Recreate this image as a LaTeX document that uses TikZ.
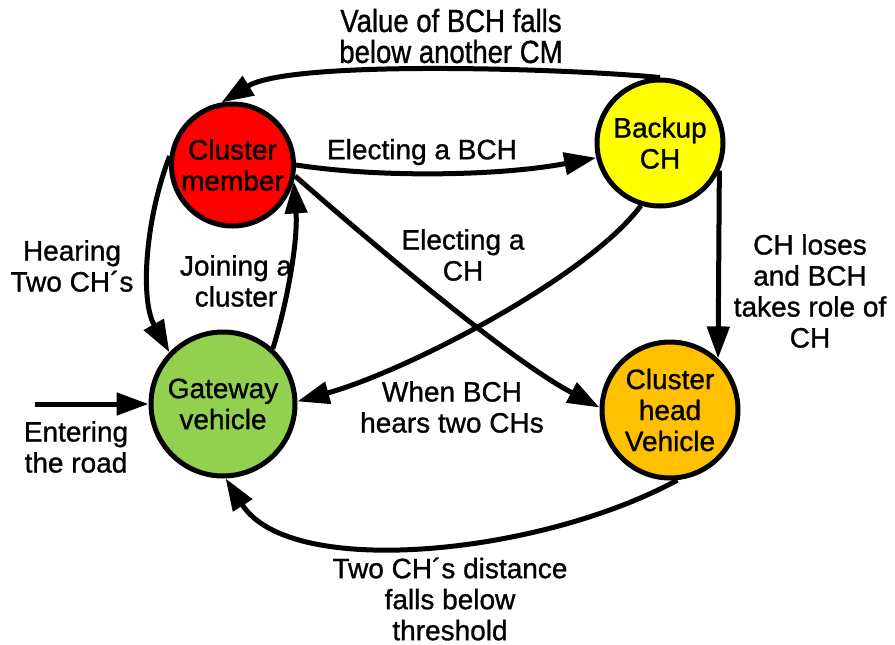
\documentclass[tikz,border=0pt]{standalone}
\usepackage{fontspec}
\setmainfont[FakeBold=1]{Liberation Sans}
\newfontfamily\narrowfont[FakeStretch=0.86,FakeBold=1]{Liberation Sans}
\usetikzlibrary{arrows.meta}

\definecolor{cmred}{RGB}{255,0,0}
\definecolor{bchyellow}{RGB}{255,255,0}
\definecolor{gwgreen}{RGB}{146,208,80}
\definecolor{chorange}{RGB}{255,192,0}

\tikzset{
  state/.style={circle, draw=black, line width=5pt, inner sep=0pt,
    align=center, font=\fontsize{28}{31}\selectfont},
  lbl/.style={align=center, inner sep=0pt, font=\fontsize{28}{31}\selectfont},
  toplbl/.style={align=center, inner sep=0pt, font=\narrowfont\fontsize{32}{31}\selectfont},
  arr/.style={line width=5pt, -{Triangle[length=32pt,width=22pt]}}
}

\begin{document}
\begin{tikzpicture}[x=1pt,y=-1pt]
\useasboundingbox (0,0) rectangle (895,645);

% states
\node[state, fill=cmred, minimum size=122pt] (cm) at (232.5,165) {Cluster\\member};
\node[state, fill=bchyellow, minimum size=126pt] (bch) at (660,143) {Backup\\CH};
\node[state, fill=gwgreen, minimum size=144pt] (gw) at (223,404) {Gateway\\vehicle};
\node[state, fill=chorange, minimum size=136pt] (ch) at (670,410) {Cluster\\head\\Vehicle};

\coordinate (entry) at (35,404);

% transitions
\draw[arr] (bch.north) .. controls (560,68) and (290,60) .. (cm.100);
\draw[arr] (cm.0) .. controls (380,178) and (500,176) .. (bch.193);
\draw[arr] (cm.-10) .. controls (420,285) and (520,365) .. (ch.178);
\draw[arr] (bch.253) .. controls (590,275) and (410,370) .. (gw.2);
\draw[arr] (bch.-25) -- (ch.47);
\draw[arr] (cm.172) .. controls (145,220) and (140,300) .. (gw.136);
\draw[arr] (gw.48) .. controls (288,300) and (298,240) .. (cm.-15);
\draw[arr] (entry) -- (gw.west);
\draw[arr] (ch.-84) .. controls (540,555) and (290,580) .. (gw.-88);

% labels
\node[toplbl] (l1) at (451,36) {Value of BCH falls\\below another CM};
\node[lbl] (l2) at (422,152) {Electing a BCH};
\node[lbl] (l3) at (463,255) {Electing a\\CH};
\node[lbl] (l4) at (452,407) {When BCH\\hears two CHs};
\node[lbl] (l5) at (810,291) {CH loses\\and BCH\\takes role of\\CH};
\node[lbl] (l6) at (72,266) {Hearing\\Two CH´s};
\node[lbl] (l7) at (236,281) {Joining a\\cluster};
\node[lbl] (l8) at (76,447) {Entering\\the road};
\node[lbl] (l9) at (450,599) {Two CH´s distance\\falls below\\threshold};
\end{tikzpicture}
\end{document}
